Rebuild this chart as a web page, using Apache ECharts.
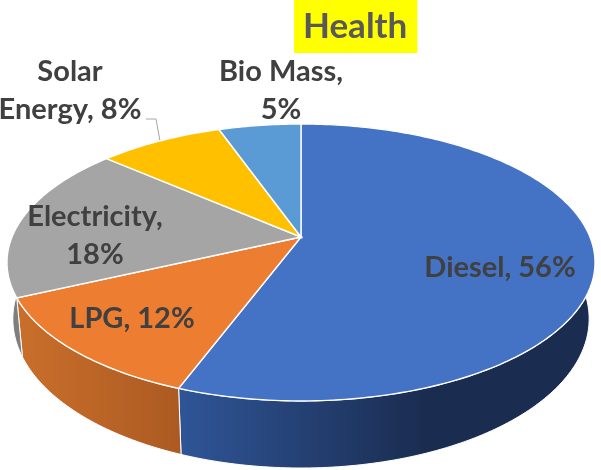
<!DOCTYPE html>
<html>
<head>
<meta charset="utf-8">
<title>Health</title>
<style>
  html, body { margin: 0; padding: 0; background: #fff; }
  #chart { width: 601px; height: 470px; }
</style>
<script src="https://cdn.jsdelivr.net/npm/echarts@6/dist/echarts.min.js"></script>
</head>
<body>
<div id="chart"></div>
<script>
  // values, the labels show them rounded
  const categories = ['Diesel', 'LPG', 'Electricity', 'Solar Energy', 'Bio Mass'];
  const shares = [55.7, 12.4, 18.3, 8.2, 5.4];

  // slice colours, top face then side wall gradient
  const topColors = ['#4472c4', '#ed7d31', '#a5a5a5', '#ffc000', '#5b9bd5'];
  const wallColors = [
    [[0, '#2f5597'], [0.6, '#1a2c4f'], [1, '#1a2c4f']],
    [[0, '#c96f2b'], [1, '#ac5a22']],
    [[0, '#7c7c7c'], [1, '#999999']],
    [[0, '#bf9000'], [1, '#bf9000']],
    [[0, '#41719c'], [1, '#41719c']]
  ];

  // label box centres in px and the text wrapped as in the picture
  const labelCentres = [[500, 268], [132, 319], [95, 236], [70, 91], [281, 91]];
  const labelBreaks = [', ', ', ', ',\n', ', ', ',\n'];
  const labelTexts = ['Diesel', 'LPG', 'Electricity', 'Solar\nEnergy', 'Bio Mass'];

  // perspective of the disc: apex, radii and tilt
  const apex = [301, 237];
  const radiusX = 289, radiusY = 133.8, tilt = 0.184;
  // the lower rim of the wall
  const lowerApexY = 291.4, lowerScaleX = 0.98, lowerScaleY = 1.077;

  function rim(angle) {
    const u = Math.sin(angle), v = -Math.cos(angle), w = 1 - tilt * v;
    return [apex[0] + radiusX * u / w, apex[1] + radiusY * v / w];
  }
  function lowerRim(angle) {
    const p = rim(angle);
    return [apex[0] + (p[0] - apex[0]) * lowerScaleX, lowerApexY + (p[1] - apex[1]) * lowerScaleY];
  }
  function arc(fn, from, to) {
    const steps = Math.max(4, Math.ceil((to - from) * 60));
    const pts = [];
    for (let i = 0; i <= steps; i++) pts.push(fn(from + (to - from) * i / steps));
    return pts;
  }

  const total = shares.reduce((a, b) => a + b, 0);

  function renderSlice(params, api) {
    const idx = params.dataIndex;
    let before = 0;
    for (let i = 0; i < idx; i++) before += shares[i];
    const from = before / total * Math.PI * 2;
    const to = (before + api.value(0)) / total * Math.PI * 2;
    const upper = arc(rim, from, to);
    const lower = arc(lowerRim, from, to).reverse();
    const children = [
      {
        type: 'polygon',
        z2: 1,
        shape: { points: upper.concat(lower) },
        style: {
          fill: new echarts.graphic.LinearGradient(0, 0, 1, 0, wallColors[idx].map(s => ({ offset: s[0], color: s[1] }))),
          stroke: '#fff',
          lineWidth: 1
        }
      },
      {
        type: 'polygon',
        z2: 5,
        shape: { points: [apex].concat(upper) },
        style: { fill: topColors[idx], stroke: '#fff', lineWidth: 1.4 }
      },
      {
        type: 'text',
        z2: 10,
        x: labelCentres[idx][0],
        y: labelCentres[idx][1],
        style: {
          text: labelTexts[idx] + labelBreaks[idx] + Math.round(api.value(0)) + '%',
          fill: '#404040',
          font: 'bold 29px Lato',
          lineHeight: 38,
          align: 'center',
          verticalAlign: 'middle'
        }
      }
    ];
    // Solar Energy has a leader line to the middle of its arc
    if (categories[idx] === 'Solar Energy') {
      const end = rim((from + to) / 2);
      children.push({
        type: 'polyline',
        z2: 4,
        shape: { points: [[labelCentres[idx][0] + 76, labelCentres[idx][1] + 28], [end[0] - 4, labelCentres[idx][1] + 28], end] },
        style: { stroke: '#a6a6a6', lineWidth: 1, fill: 'none' }
      });
    }
    return { type: 'group', children: children };
  }

  const myChart = echarts.init(document.getElementById('chart'), null, { renderer: 'canvas' });
  myChart.setOption({
    animation: false,
    title: {
      text: 'Health',
      left: 294,
      top: 0,
      padding: [9, 10, 9, 9],
      backgroundColor: '#ffff00',
      textStyle: { color: '#595959', fontFamily: 'Lato', fontWeight: 'bold', fontSize: 35, lineHeight: 35 }
    },
    series: [{
      type: 'custom',
      coordinateSystem: 'none',
      renderItem: renderSlice,
      data: shares.map((v, i) => ({ name: categories[i], value: [v] }))
    }]
  });
</script>
</body>
</html>
